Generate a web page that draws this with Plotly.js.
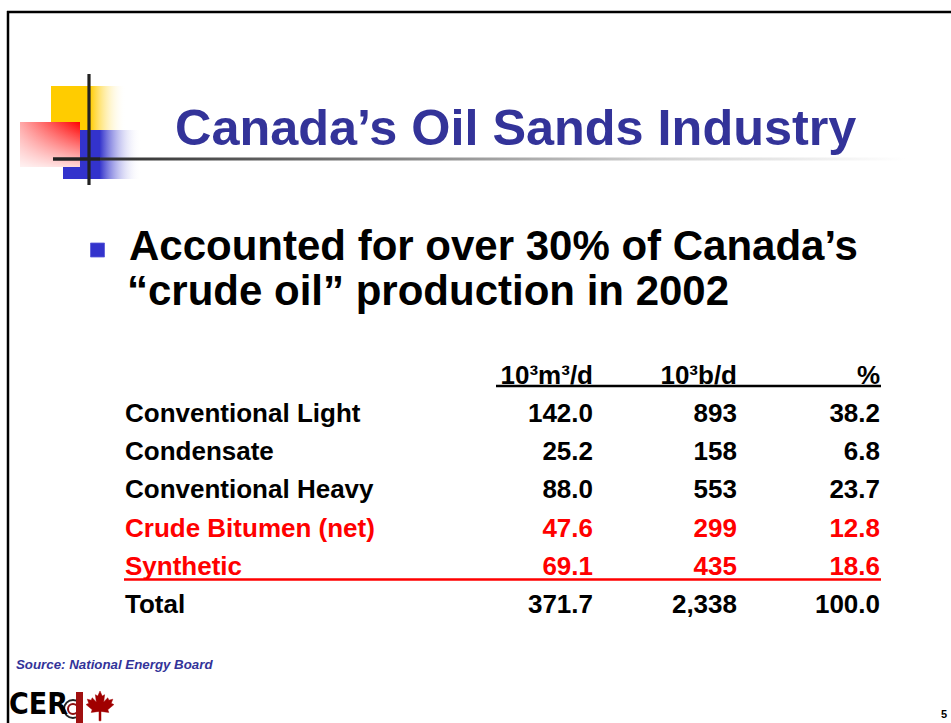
<!DOCTYPE html>
<html><head><meta charset="utf-8">
<script src="https://cdn.plot.ly/plotly-3.0.1.min.js"></script>
<style>html,body{margin:0;padding:0;background:#fff;overflow:hidden}#chart{width:951px;height:723px}</style>
</head><body><div id="chart"></div>
<script>
// ---------- data ----------
const rowLabels = ['Conventional Light','Condensate','Conventional Heavy','Crude Bitumen (net)','Synthetic','Total'];
const m3PerDay = [142.0, 25.2, 88.0, 47.6, 69.1, 371.7];
const barrelsPerDay = [893, 158, 553, 299, 435, 2338];
const sharePct = [38.2, 6.8, 23.7, 12.8, 18.6, 100.0];
const columnHeaders = ['10\u00B3m\u00B3/d', '10\u00B3b/d', '%'];
const oilSandsRows = ['Crude Bitumen (net)', 'Synthetic'];
const headerKey = 'header';

// ---------- layout constants ----------
const W = 951, H = 723;
const labelX = 125;
const colRightX = [593, 737, 880];
const FONT = 'Liberation Sans, Arial, sans-serif';
const NAVY = '#333399';
const RED = '#ff0000';

const rowColors = rowLabels.map(r => oilSandsRows.includes(r) ? RED : '#000000');
const fmt1 = v => v.toFixed(1);
const fmtInt = v => v.toLocaleString('en-US');

function textTrace(xs, ys, texts, colors, pos) {
  return {
    type: 'scatter', mode: 'text', x: xs, y: ys, text: texts,
    textposition: pos, cliponaxis: false, hoverinfo: 'skip', showlegend: false,
    xaxis: 'x', yaxis: 'y2',
    textfont: {family: FONT, size: 26, weight: 'bold', color: colors}
  };
}
function rectTrace(x0, x1, y0, y1, grad) {
  return {
    type: 'scatter', mode: 'lines', x: [x0, x1, x1, x0, x0], y: [y0, y0, y1, y1, y0],
    fill: 'toself', fillgradient: grad, line: {width: 0, color: 'rgba(0,0,0,0)'},
    hoverinfo: 'skip', showlegend: false, xaxis: 'x', yaxis: 'y'
  };
}

const traces = [];
// decorative logo blocks (top-left)
traces.push(rectTrace(51, 126, 86, 130, {type: 'horizontal', start: 51, stop: 126,
  colorscale: [[0, '#ffcc00'], [0.52, '#ffcc00'], [1, 'rgba(255,255,255,0)']]}));
traces.push(rectTrace(63, 141, 130, 179, {type: 'horizontal', start: 63, stop: 141,
  colorscale: [[0, '#3333cc'], [0.47, '#3333cc'], [1, 'rgba(255,255,255,0)']]}));
traces.push(rectTrace(20, 80, 122, 167, {type: 'horizontal', start: 20, stop: 80,
  colorscale: [[0, '#ffa8a8'], [1, '#ff0000']]}));
traces.push(rectTrace(20, 80, 122, 167, {type: 'vertical', start: 122, stop: 167,
  colorscale: [[0, 'rgba(255,255,255,0)'], [1, 'rgba(255,255,255,0.85)']]}));
// title rule with gradient
traces.push(rectTrace(53, 905, 157.5, 160.5, {type: 'horizontal', start: 53, stop: 905,
  colorscale: [[0, '#222222'], [0.35, '#777777'], [0.7, '#cfcfcf'], [1, '#ffffff']]}));

// table
traces.push(textTrace(rowLabels.map(() => labelX), rowLabels, rowLabels, rowColors, 'middle right'));
traces.push(textTrace(rowLabels.map(() => colRightX[0]), rowLabels, m3PerDay.map(fmt1), rowColors, 'middle left'));
traces.push(textTrace(rowLabels.map(() => colRightX[1]), rowLabels, barrelsPerDay.map(fmtInt), rowColors, 'middle left'));
traces.push(textTrace(rowLabels.map(() => colRightX[2]), rowLabels, sharePct.map(fmt1), rowColors, 'middle left'));
traces.push(textTrace(colRightX, columnHeaders.map(() => headerKey), columnHeaders, '#000000', 'middle left'));

// maple leaf path
const leaf = [[0,-1],[0.13,-0.7],[0.27,-0.78],[0.22,-0.36],[0.46,-0.6],[0.52,-0.46],[0.75,-0.52],[0.66,-0.28],[0.82,-0.2],[0.46,0.1],[0.52,0.26],[0.06,0.2],[0.06,0.75],[-0.06,0.75],[-0.06,0.2],[-0.52,0.26],[-0.46,0.1],[-0.82,-0.2],[-0.66,-0.28],[-0.75,-0.52],[-0.52,-0.46],[-0.46,-0.6],[-0.22,-0.36],[-0.27,-0.78],[-0.13,-0.7]];
const lc = [100, 708], ls = 17;
const leafPath = leaf.map((p, i) => (i ? 'L' : 'M') + (lc[0] + p[0] * ls).toFixed(1) + ',' + (lc[1] + p[1] * ls).toFixed(1)).join(' ') + ' Z';

const shapes = [
  // slide frame
  {type: 'line', x0: 7, x1: 951, y0: 12, y1: 12, line: {color: '#000', width: 2.5}},
  {type: 'line', x0: 8, x1: 8, y0: 11, y1: 723, line: {color: '#000', width: 2.5}},
  // logo cross
  {type: 'line', x0: 89, x1: 89, y0: 74, y1: 185, line: {color: '#222', width: 3.2}},
  {type: 'line', x0: 53, x1: 100, y0: 159, y1: 159, line: {color: '#222', width: 3.2}},
  // bullet
  {type: 'rect', x0: 90.5, x1: 104.5, y0: 243, y1: 257, fillcolor: '#3333cc', line: {color: '#5a5ad8', width: 0.8}},
  // header underline
  {type: 'line', x0: 496, x1: 881, y0: 386, y1: 386, line: {color: '#000', width: 2.6}},
  // synthetic red rule
  {type: 'line', x0: 124, x1: 881, y0: 579.5, y1: 579.5, line: {color: RED, width: 2.6}},
  // CERI logo rings + strip + leaf
  {type: 'circle', x0: 64, x1: 82, y0: 700, y1: 718, line: {color: '#222', width: 2}},
  {type: 'circle', x0: 68, x1: 78, y0: 704, y1: 714, line: {color: '#8b1010', width: 2}},
  {type: 'rect', x0: 76, x1: 83, y0: 692, y1: 723, fillcolor: '#a01010', line: {width: 0}},
  {type: 'path', path: leafPath, fillcolor: '#a00000', line: {color: '#a00000', width: 0.5}}
];

const annotations = [
  {x: 173, y: 127, xanchor: 'left', yanchor: 'middle', showarrow: false,
   text: 'Canada\u2019s Oil Sands Industry',
   font: {family: FONT, size: 50.4, weight: 'bold', color: NAVY}},
  {x: 127, y: 245, xanchor: 'left', yanchor: 'middle', showarrow: false,
   text: 'Accounted for over 30% of Canada\u2019s',
   font: {family: FONT, size: 42, weight: 'bold', color: '#000'}},
  {x: 125, y: 290, xanchor: 'left', yanchor: 'middle', showarrow: false,
   text: '\u201Ccrude oil\u201D production in 2002',
   font: {family: FONT, size: 42, weight: 'bold', color: '#000'}},
  {x: 14, y: 664, xanchor: 'left', yanchor: 'middle', showarrow: false,
   text: '<i>Source: National Energy Board</i>',
   font: {family: FONT, size: 13.3, weight: 'bold', color: NAVY}},
  {x: 7, y: 723, xanchor: 'left', yanchor: 'bottom', showarrow: false,
   text: 'CER',
   font: {family: 'DejaVu Sans Condensed, Liberation Sans, sans-serif', size: 30, weight: 'bold', color: '#000'}},
  {x: 939, y: 722, xanchor: 'left', yanchor: 'bottom', showarrow: false,
   text: '5', font: {family: FONT, size: 11, weight: 'bold', color: '#000'}}
];
annotations.forEach(a => { a.xref = 'x'; a.yref = 'y'; });
shapes.forEach(s => { s.xref = 'x'; s.yref = 'y'; s.layer = 'above'; });

// table rows: index 0 (header) centred at 377.2px, spacing 38.27px
const rowTop = 358.07, rowBottom = 625.93;

const layout = {
  width: W, height: H,
  margin: {l: 0, r: 0, t: 0, b: 0, pad: 0},
  paper_bgcolor: '#ffffff', plot_bgcolor: 'rgba(0,0,0,0)',
  showlegend: false,
  xaxis: {range: [0, W], domain: [0, 1], visible: false, fixedrange: true, anchor: 'y'},
  yaxis: {range: [H, 0], domain: [0, 1], visible: false, fixedrange: true, anchor: 'x'},
  yaxis2: {type: 'category', categoryorder: 'array', categoryarray: [headerKey].concat(rowLabels),
           range: [6.5, -0.5], domain: [1 - rowBottom / H, 1 - rowTop / H],
           visible: false, fixedrange: true, anchor: 'x'},
  shapes: shapes,
  annotations: annotations
};

Plotly.newPlot('chart', traces, layout, {staticPlot: true, displayModeBar: false});
</script>
</body></html>
